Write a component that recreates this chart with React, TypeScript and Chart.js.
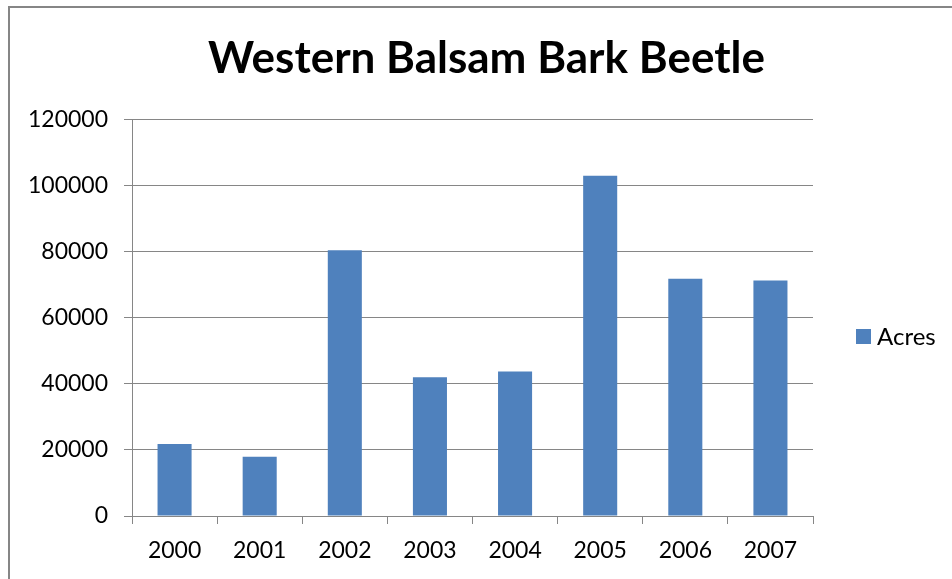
import { useEffect, useRef } from "react";
import { Chart, registerables } from "chart.js";

Chart.register(...registerables);

// Infested area per survey year
const years = ["2000", "2001", "2002", "2003", "2004", "2005", "2006", "2007"];
const acres = [21800, 17900, 80400, 42000, 43700, 102900, 71800, 71200];
const seriesName = "Acres";
const chartTitle = "Western Balsam Bark Beetle";

const yMin = 0;
const yMax = 120000;
const yStep = 20000;

const GRID = "#868686";
const BAR = "#4F81BD";
const FONT = "Lato, 'Open Sans', sans-serif";

const CANVAS_W = 957;
const CANVAS_H = 600;

// Outer chart frame, drawn behind everything else
const framePlugin = {
  id: "frame",
  beforeDraw(chart: any) {
    const { ctx, width, height } = chart;
    ctx.save();
    ctx.fillStyle = "#ffffff";
    ctx.fillRect(0, 0, width, height);
    ctx.strokeStyle = GRID;
    ctx.lineWidth = 2;
    ctx.strokeRect(1, 1, width - 2, height - 2);
    ctx.restore();
  },
};

// Legend entry to the right of the plot area
const sideLegendPlugin = {
  id: "sideLegend",
  afterDraw(chart: any) {
    const { ctx, chartArea } = chart;
    const ds = chart.data.datasets[0];
    const boxX = chartArea.right + 43;
    const cy = 330.5;
    const size = 15;
    ctx.save();
    ctx.fillStyle = ds.backgroundColor;
    ctx.fillRect(boxX, cy - size / 2, size, size);
    ctx.fillStyle = "#000000";
    ctx.font = `24px ${FONT}`;
    ctx.textAlign = "left";
    ctx.textBaseline = "middle";
    ctx.fillText(ds.label, boxX + size + 6, cy + 1);
    ctx.restore();
  },
};

export default function App() {
  const canvasRef = useRef<HTMLCanvasElement | null>(null);

  useEffect(() => {
    const canvas = canvasRef.current;
    if (!canvas) return;
    const chart = new Chart(canvas, {
      type: "bar",
      data: {
        labels: years,
        datasets: [
          {
            label: seriesName,
            data: acres,
            backgroundColor: BAR,
            borderWidth: 0,
            categoryPercentage: 0.4,
            barPercentage: 1,
            yAxisID: "y",
          },
        ],
      },
      options: {
        responsive: false,
        animation: false,
        devicePixelRatio: 1,
        layout: { padding: 0 },
        plugins: {
          legend: { display: false },
          tooltip: { enabled: false },
          title: {
            display: true,
            text: chartTitle,
            color: "#000000",
            font: { family: FONT, size: 44, weight: "bold" },
            padding: { top: 26, bottom: 34.5 },
          },
        },
        scales: {
          x: {
            offset: true,
            grid: {
              display: true,
              offset: true,
              drawOnChartArea: false,
              drawTicks: true,
              tickLength: 8,
              color: GRID,
              lineWidth: 1,
            },
            border: { display: true, color: GRID, width: 1 },
            ticks: {
              color: "#000000",
              font: { family: FONT, size: 23 },
              padding: 13,
              maxRotation: 0,
            },
            afterFit(scale: any) {
              scale.height = 90;
            },
          },
          y: {
            position: "left",
            min: yMin,
            max: yMax,
            grid: {
              color: GRID,
              lineWidth: 1,
              drawTicks: true,
              tickLength: 8,
            },
            border: { display: true, color: GRID, width: 1 },
            ticks: {
              stepSize: yStep,
              color: "#000000",
              font: { family: FONT, size: 23 },
              padding: 16,
              callback: (v: any) => String(v),
            },
            afterFit(scale: any) {
              scale.width = 124;
            },
          },
          legendSpace: {
            type: "linear",
            position: "right",
            display: true,
            grid: { display: false, drawTicks: false },
            border: { display: false },
            ticks: { display: false },
            afterFit(scale: any) {
              scale.width = 152;
            },
          },
        },
      },
      plugins: [framePlugin, sideLegendPlugin],
    });
    return () => chart.destroy();
  }, []);

  return (
    <div
      style={{
        position: "fixed",
        left: 0,
        top: 0,
        width: 952,
        height: 579,
        overflow: "hidden",
        background: "#ffffff",
      }}
    >
      <canvas
        ref={canvasRef}
        width={CANVAS_W}
        height={CANVAS_H}
        style={{ position: "absolute", left: 8, top: 6, width: CANVAS_W, height: CANVAS_H }}
      />
    </div>
  );
}
